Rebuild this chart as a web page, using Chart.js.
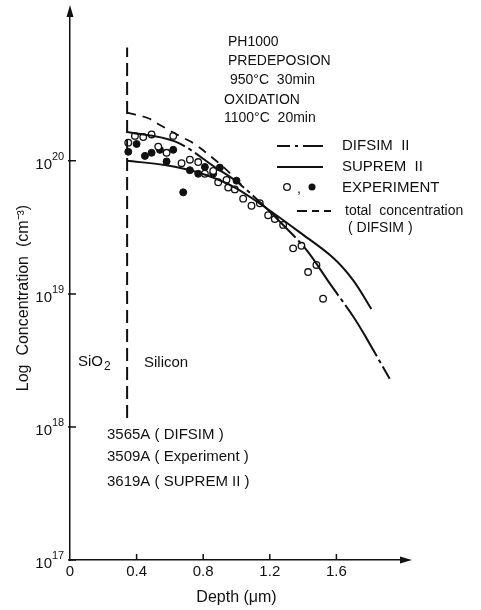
<!DOCTYPE html>
<html lang="en">
<head>
  <meta charset="UTF-8">
  <title>Phosphorus profile</title>
  <script src="https://cdn.jsdelivr.net/npm/chart.js"></script>
  <style>
    body { margin: 0; background: #fff; }
    #wrap { width: 481px; height: 610px; }
  </style>
</head>
<body>
  <div id="wrap"><canvas id="chart" width="481" height="610"></canvas></div>

  <script>
    // experiment, open circles
    const openDepth = [0.35, 0.39, 0.44, 0.49, 0.62, 0.53, 0.58, 0.67, 0.72, 0.77, 0.81, 0.86, 0.89, 0.94,
                       0.95, 0.99, 1.04, 1.09, 1.14, 1.19, 1.23, 1.28, 1.34, 1.39, 1.43, 1.48, 1.52];
    const openConc = [1.37e20, 1.54e20, 1.51e20, 1.58e20, 1.54e20, 1.28e20, 1.15e20, 9.6e19, 1.02e20, 9.8e19,
                      8.0e19, 8.4e19, 6.9e19, 7.2e19, 6.3e19, 6.1e19, 5.2e19, 4.6e19, 4.8e19, 3.9e19,
                      3.65e19, 3.3e19, 2.2e19, 2.3e19, 1.46e19, 1.65e19, 9.2e18];
    // experiment, filled circles
    const fillDepth = [0.35, 0.40, 0.45, 0.49, 0.54, 0.62, 0.58, 0.68, 0.72, 0.77, 0.81, 0.86, 0.90, 1.00];
    const fillConc = [1.17e20, 1.34e20, 1.09e20, 1.15e20, 1.21e20, 1.21e20, 9.9e19, 5.8e19, 8.5e19,
                      8.0e19, 9.0e19, 8.0e19, 8.9e19, 7.1e19];
    // SUPREM II
    const supremDepth = [0.343, 0.57, 0.78, 0.98, 1.18, 1.38, 1.58, 1.70, 1.81];
    const supremConc = [1.0e20, 9.3e19, 8.1e19, 6.4e19, 4.4e19, 2.9e19, 1.87e19, 1.27e19, 7.7e18];
    // DIFSIM II
    const difsimDepth = [0.343, 0.63, 0.88, 1.0, 1.14, 1.27, 1.42, 1.56, 1.70, 1.77, 1.92];
    const difsimConc = [1.65e20, 1.40e20, 8.8e19, 7.0e19, 4.9e19, 3.4e19, 2.14e19, 1.2e19, 6.8e18, 4.9e18, 2.3e18];
    // total concentration (DIFSIM)
    const totalDepth = [0.343, 0.47, 0.54, 0.67, 0.74, 0.87, 0.96, 1.05];
    const totalConc = [2.3e20, 2.09e20, 1.86e20, 1.51e20, 1.36e20, 1.02e20, 8.1e19, 6.2e19];
    // SiO2 / silicon interface
    const ifaceDepth = [0.343, 0.343];
    const ifaceConc = [1.17e18, 7.1e20];

    const xTicks = [0, 0.4, 0.8, 1.2, 1.6];
    const yTicks = [1e17, 1e18, 1e19, 1e20];

    const ink = '#111';
    const font = '"Liberation Sans", Arial, sans-serif';

    function pts(xs, ys) {
      return xs.map((x, i) => ({ x: x, y: ys[i] }));
    }

    const overlay = {
      id: 'overlay',
      afterDraw(chart) {
        const c = chart.ctx;
        const xs = chart.scales.x, ys = chart.scales.y;
        const a = chart.chartArea;
        c.save();
        c.fillStyle = ink;
        c.strokeStyle = ink;
        c.lineWidth = 1.5;

        // arrows on the axes
        c.beginPath();
        c.moveTo(a.left, a.top - 9);
        c.lineTo(a.left - 3.5, a.top + 3);
        c.lineTo(a.left + 3.5, a.top + 3);
        c.closePath();
        c.fill();
        c.beginPath();
        c.moveTo(a.right + 9, a.bottom);
        c.lineTo(a.right - 3, a.bottom - 3.5);
        c.lineTo(a.right - 3, a.bottom + 3.5);
        c.closePath();
        c.fill();

        // inward ticks
        c.beginPath();
        xTicks.slice(1).forEach(v => {
          const px = xs.getPixelForValue(v);
          c.moveTo(px, a.bottom);
          c.lineTo(px, a.bottom - 6);
        });
        yTicks.forEach(v => {
          const py = ys.getPixelForValue(v);
          c.moveTo(a.left - 2, py);
          c.lineTo(a.left + 6, py);
        });
        c.stroke();

        // y tick labels, 10 with raised exponent
        c.textBaseline = 'alphabetic';
        yTicks.forEach(v => {
          const py = ys.getPixelForValue(v);
          c.font = '15px ' + font;
          c.textAlign = 'right';
          c.fillText('10', 52, py + 8);
          c.font = '11px ' + font;
          c.textAlign = 'left';
          c.fillText(String(Math.round(Math.log10(v))), 52, py - 1);
        });

        // y title
        c.save();
        c.translate(24, 298);
        c.rotate(-Math.PI / 2);
        c.font = '16px ' + font;
        c.textAlign = 'center';
        c.textBaseline = 'middle';
        c.fillText('Log  Concentration  (cm⁻³)', 0, 0);
        c.restore();

        // legend
        c.lineWidth = 1.8;
        c.beginPath();
        c.moveTo(277, 146); c.lineTo(290, 146);
        c.moveTo(295, 146); c.lineTo(298, 146);
        c.moveTo(303, 146); c.lineTo(323, 146);
        c.moveTo(277, 167); c.lineTo(323, 167);
        c.moveTo(297, 211); c.lineTo(307, 211);
        c.moveTo(312, 211); c.lineTo(319, 211);
        c.moveTo(324, 211); c.lineTo(331, 211);
        c.stroke();
        c.lineWidth = 1.3;
        c.beginPath();
        c.arc(287, 187, 3.3, 0, Math.PI * 2);
        c.stroke();
        c.beginPath();
        c.arc(312, 187, 3.5, 0, Math.PI * 2);
        c.fill();

        c.font = '14px ' + font;
        c.textAlign = 'left';
        c.textBaseline = 'middle';
        c.fillText(',', 297, 189);
        c.font = '15px ' + font;
        c.fillText('DIFSIM  II', 342, 146);
        c.fillText('SUPREM  II', 342, 167);
        c.fillText('EXPERIMENT', 342, 188);
        c.font = '14px ' + font;
        c.fillText('total  concentration', 345, 211);
        c.fillText('( DIFSIM )', 348, 228);

        // process notes
        c.font = '14px ' + font;
        c.fillText('PH1000', 228, 42);
        c.fillText('PREDEPOSION', 228, 61);
        c.fillText('950°C  30min', 230, 80);
        c.fillText('OXIDATION', 224, 100);
        c.fillText('1100°C  20min', 224, 118);

        c.font = '15px ' + font;
        c.fillText('SiO', 78, 362);
        const w = c.measureText('SiO').width;
        c.font = '12px ' + font;
        c.fillText('2', 78 + w + 1, 367);
        c.font = '15px ' + font;
        c.fillText('Silicon', 144, 363);
        c.fillText('3565A ( DIFSIM )', 107, 435);
        c.fillText('3509A ( Experiment )', 107, 457);
        c.fillText('3619A ( SUPREM II )', 107, 482);
        c.restore();
      }
    };

    const lineBase = { type: 'line', showLine: true, pointRadius: 0, borderColor: ink, fill: false, tension: 0.35 };

    new Chart(document.getElementById('chart'), {
      type: 'scatter',
      data: {
        datasets: [
          Object.assign({}, lineBase, { label: 'interface', data: pts(ifaceDepth, ifaceConc), borderWidth: 2, borderDash: [13, 6], tension: 0 }),
          Object.assign({}, lineBase, { label: 'total concentration (DIFSIM)', data: pts(totalDepth, totalConc), borderWidth: 1.8, borderDash: [9, 7] }),
          Object.assign({}, lineBase, { label: 'DIFSIM II', data: pts(difsimDepth, difsimConc), borderWidth: 2, borderDash: [60, 4, 4, 4] }),
          Object.assign({}, lineBase, { label: 'SUPREM II', data: pts(supremDepth, supremConc), borderWidth: 2 }),
          { label: 'EXPERIMENT (open)', data: pts(openDepth, openConc), pointRadius: 3.3, pointBorderWidth: 1.3,
            pointBorderColor: ink, pointBackgroundColor: '#fff' },
          { label: 'EXPERIMENT (filled)', data: pts(fillDepth, fillConc), pointRadius: 3.5, pointBorderWidth: 1,
            pointBorderColor: ink, pointBackgroundColor: ink }
        ]
      },
      options: {
        responsive: false,
        animation: false,
        layout: { padding: { left: 0, right: 78, top: 14, bottom: 0 } },
        plugins: { legend: { display: false }, tooltip: { enabled: false } },
        scales: {
          x: {
            type: 'linear', min: 0, max: 2.0,
            afterBuildTicks: s => { s.ticks = xTicks.map(v => ({ value: v })); },
            afterFit: s => { s.height = 50; },
            grid: { display: false, drawTicks: false },
            border: { display: true, color: ink, width: 1.5 },
            ticks: { color: ink, padding: 3, font: { family: font, size: 15 },
                     callback: v => v === 0 ? '0' : v.toFixed(1) },
            title: { display: true, text: 'Depth (μm)', color: ink, padding: { top: 0, bottom: 3 },
                     font: { family: font, size: 16 } }
          },
          y: {
            type: 'logarithmic', min: 1e17, max: 1.27e21,
            afterBuildTicks: s => { s.ticks = yTicks.map(v => ({ value: v })); },
            afterFit: s => { s.width = 70; },
            grid: { display: false, drawTicks: false },
            border: { display: true, color: ink, width: 1.5 },
            ticks: { display: false }
          }
        }
      },
      plugins: [overlay]
    });
  </script>
</body>
</html>
